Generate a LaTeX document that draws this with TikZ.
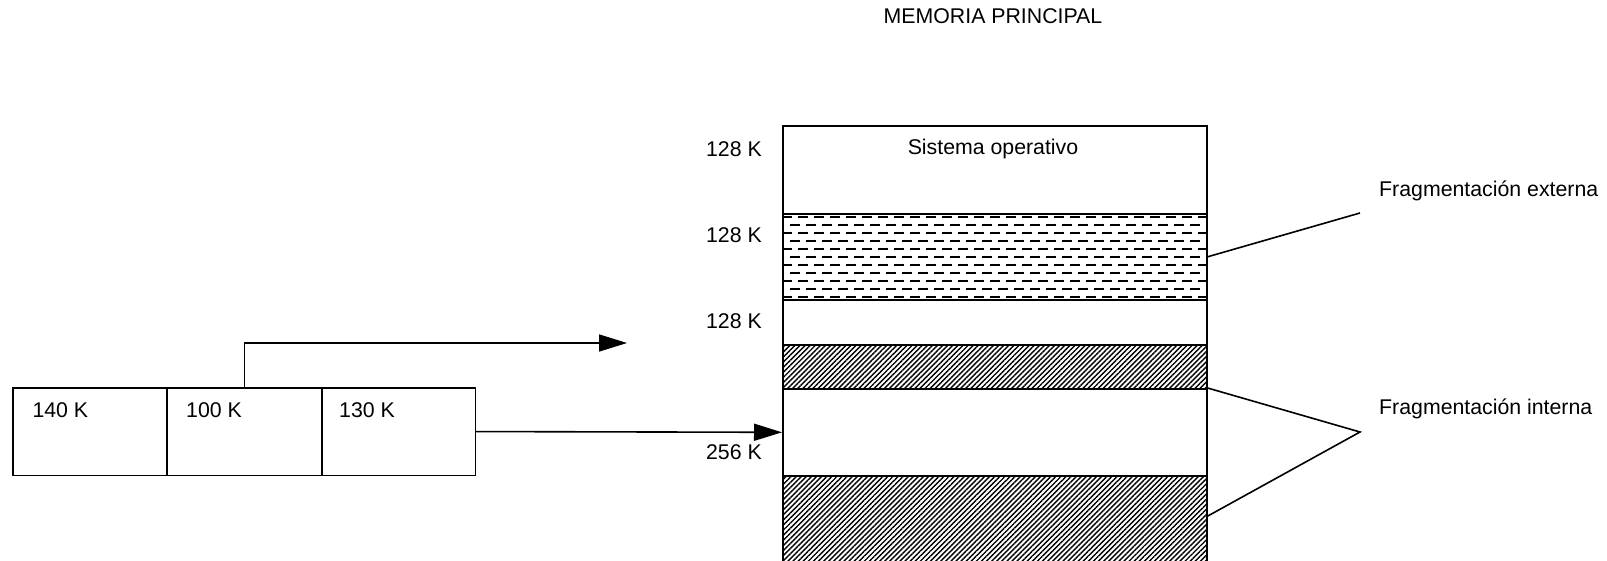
\documentclass[tikz,border=0pt]{standalone}
\usepackage{fontspec}
\setmainfont{Liberation Sans}
\usetikzlibrary{arrows.meta,patterns.meta}
\begin{document}
\begin{tikzpicture}[x=1pt,y=-1pt,
  every node/.style={font=\fontsize{21.3}{25}\selectfont, inner sep=0pt},
  blk/.style={draw, line width=1.6pt, minimum width=424pt, anchor=north west},
  lbox/.style={draw, line width=1.6pt, minimum height=87.5pt, anchor=north west},
  hatch/.style={pattern={Lines[angle=45,distance=3.6pt,line width=1.4pt]}},
  arr/.style={line width=1.6pt, -{Triangle[length=28pt,width=17pt]}},
  conn/.style={line width=1.6pt},
  dashrow/.style={line width=2pt, dash pattern=on 9.5pt off 6.5pt}]
\useasboundingbox (0,0) rectangle (1607,560);

% title
\node (title) at (993,16) {MEMORIA PRINCIPAL};

% memory blocks
\node[blk, minimum height=88pt] (os) at (782,125) {};
\node[blk, minimum height=86pt] (ext) at (782,213) {};
\node[blk, minimum height=89pt] (b3) at (782,299) {};
\node[blk, hatch, minimum height=44pt] (h1) at (782,344) {};
\node[blk, minimum height=87pt] (b4) at (782,388) {};
\node[blk, hatch, minimum height=95pt] (b5) at (782,475) {};

% dashed pattern of the external fragment
\begin{scope}
  \clip ([xshift=0.8pt,yshift=-0.8pt]ext.north west) rectangle ([xshift=-0.8pt,yshift=0.8pt]ext.south east);
  \foreach \i in {0,...,10} {
    \pgfmathsetmacro{\yy}{216.8+8.0*\i}
    \pgfmathsetmacro{\ph}{mod(\i,2)*8}
    \draw[dashrow, dash phase=\ph pt] (782,\yy) -- (1206,\yy);
  }
\end{scope}

\node (ostext) at (993,149) {Sistema operativo};

% size labels
\node[anchor=east] (l1) at (762,149) {128 K};
\node[anchor=east] (l2) at (762,235) {128 K};
\node[anchor=east] (l3) at (762,321) {128 K};
\node[anchor=east] (l4) at (762,452) {256 K};

% process boxes
\node[lbox, minimum width=153.7pt] (p1) at (12.3,387) {};
\node[lbox, minimum width=155pt] (p2) at (166,387) {};
\node[lbox, minimum width=153.5pt] (p3) at (321,387) {};
\node[anchor=west] (t1) at ([xshift=20pt,yshift=-23pt]p1.north west) {140 K};
\node[anchor=west] (t2) at ([xshift=20pt,yshift=-23pt]p2.north west) {100 K};
\node[anchor=west] (t3) at ([xshift=18pt,yshift=-23pt]p3.north west) {130 K};

% arrows
\coordinate (a1end) at (627,343);
\draw[arr] (p2.north) |- (a1end);
\draw[arr] (p3.east) -- (b4.west);

% fragmentation labels
\node[anchor=west] (fext) at (1379,191) {Fragmentación externa};
\node[anchor=west] (fint) at (1379,409) {Fragmentación interna};
\coordinate (ce) at (1360,213);
\coordinate (ci) at (1360,432);
\coordinate (ciend) at (1206,517);
\draw[conn] (ext.east) -- (ce);
\draw[conn] (b4.north east) -- (ci) -- (ciend);
\end{tikzpicture}
\end{document}
